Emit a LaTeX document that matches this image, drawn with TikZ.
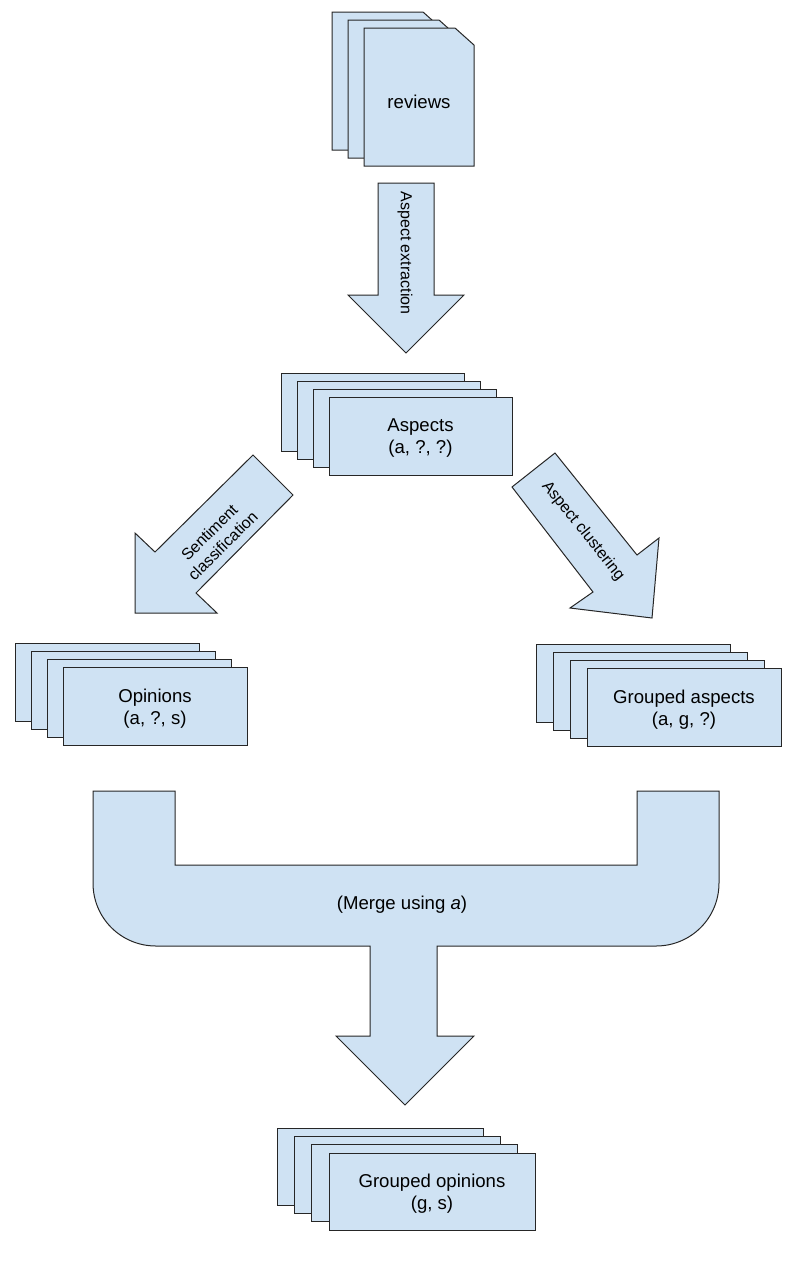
\documentclass[tikz,border=0pt]{standalone}
\usepackage{fontspec}
\setmainfont{Liberation Sans}
\usepackage{tikz}
\usepackage{xcolor}

\begin{document}
\begin{tikzpicture}[x=0.5pt,y=-0.5pt,
    sheet/.style={draw=black!85,line width=0.5pt,fill=paper},
    blockarrow/.style={draw=black!85,line width=0.5pt,fill=paper,line join=miter},
    label/.style={inner sep=1pt,align=center},
    arrowlabel/.style={label,font=\fontsize{8}{9.5}\selectfont}]
    \fontsize{9.3}{11}\selectfont
    \definecolor{paper}{RGB}{207,226,243};
    \useasboundingbox (0,0) rectangle (801,1275);

    % input documents
    \foreach \i in {2,1}
      \draw[sheet] ({364-16*\i},{28-8*\i}) -- ++(91,0) -- ++(19,17) -- ++(0,121) -- ++(-110,0) -- cycle;
    \draw[sheet] (364,28) -- (455,28) -- (474,45) -- (474,166) -- (364,166) -- cycle;
    \node[label] (reviews) at (419,102) {reviews};

    \draw[blockarrow] (378,183) -- (434,183) -- (434,295) -- (464,295) -- (406,353) -- (348,295) -- (378,295) -- cycle;
    \node[arrowlabel,rotate=-90] (extraction) at (405,253) {Aspect extraction};

    % aspects
    \foreach \i in {3,2,1}
      \draw[sheet] ({329-15.7*\i},{397-8*\i}) rectangle ++(183,78);
    \node[sheet,minimum width=91.5pt,minimum height=39pt] (aspects) at (420.5,436) {};
    \node[label] (aspectstext) at (420.5,438.5) {Aspects\\(a, ?, ?)};

    \draw[blockarrow] (253,455) -- (293,495) -- (196,593) -- (217,613) -- (135,613) -- (135,533) -- (155,552) -- cycle;
    \node[arrowlabel,rotate=45] (sentiment) at (216,539) {Sentiment\\classification};

    \draw[blockarrow] (555,453) -- (637,555) -- (659,538) -- (652,618) -- (570,608) -- (593,592) -- (512,487) -- cycle;
    \node[arrowlabel,rotate=-51.3] (clustering) at (583,531) {Aspect clustering};

    % opinions and grouped aspects
    \foreach \i in {3,2,1}
      \draw[sheet] ({63-15.7*\i},{667-8*\i}) rectangle ++(184,78);
    \node[sheet,minimum width=92pt,minimum height=39pt] (opinions) at (155,706) {};
    \node[label] (opinionstext) at (155,709) {Opinions\\(a, ?, s)};

    \foreach \i in {3,2,1}
      \draw[sheet] ({587-17*\i},{668-8*\i}) rectangle ++(194,78);
    \node[sheet,minimum width=97pt,minimum height=39pt] (grouped) at (684,707) {};
    \node[label] (groupedtext) at (684,710) {Grouped aspects\\(a, g, ?)};

    % merge
    \draw[blockarrow] (93,791) -- (175,791) -- (175,865) -- (637,865) -- (637,791) -- (719,791) -- (719,883)
      .. controls (719,918) and (691,946) .. (656,946) -- (437,946) -- (437,1036) -- (474,1036) -- (405,1105)
      -- (336,1036) -- (370,1036) -- (370,946) -- (156,946) .. controls (121,946) and (93,918) .. (93,883) -- cycle;
    \node[label] (merge) at (402,905) {(Merge using \textit{a})};

    % result
    \foreach \i in {3,2,1}
      \draw[sheet] ({329-17.3*\i},{1153-8.3*\i}) rectangle ++(206,77);
    \node[sheet,minimum width=103pt,minimum height=38.5pt] (result) at (432,1191.5) {};
    \node[label] (resulttext) at (432,1193.5) {Grouped opinions\\(g, s)};
\end{tikzpicture}
\end{document}
